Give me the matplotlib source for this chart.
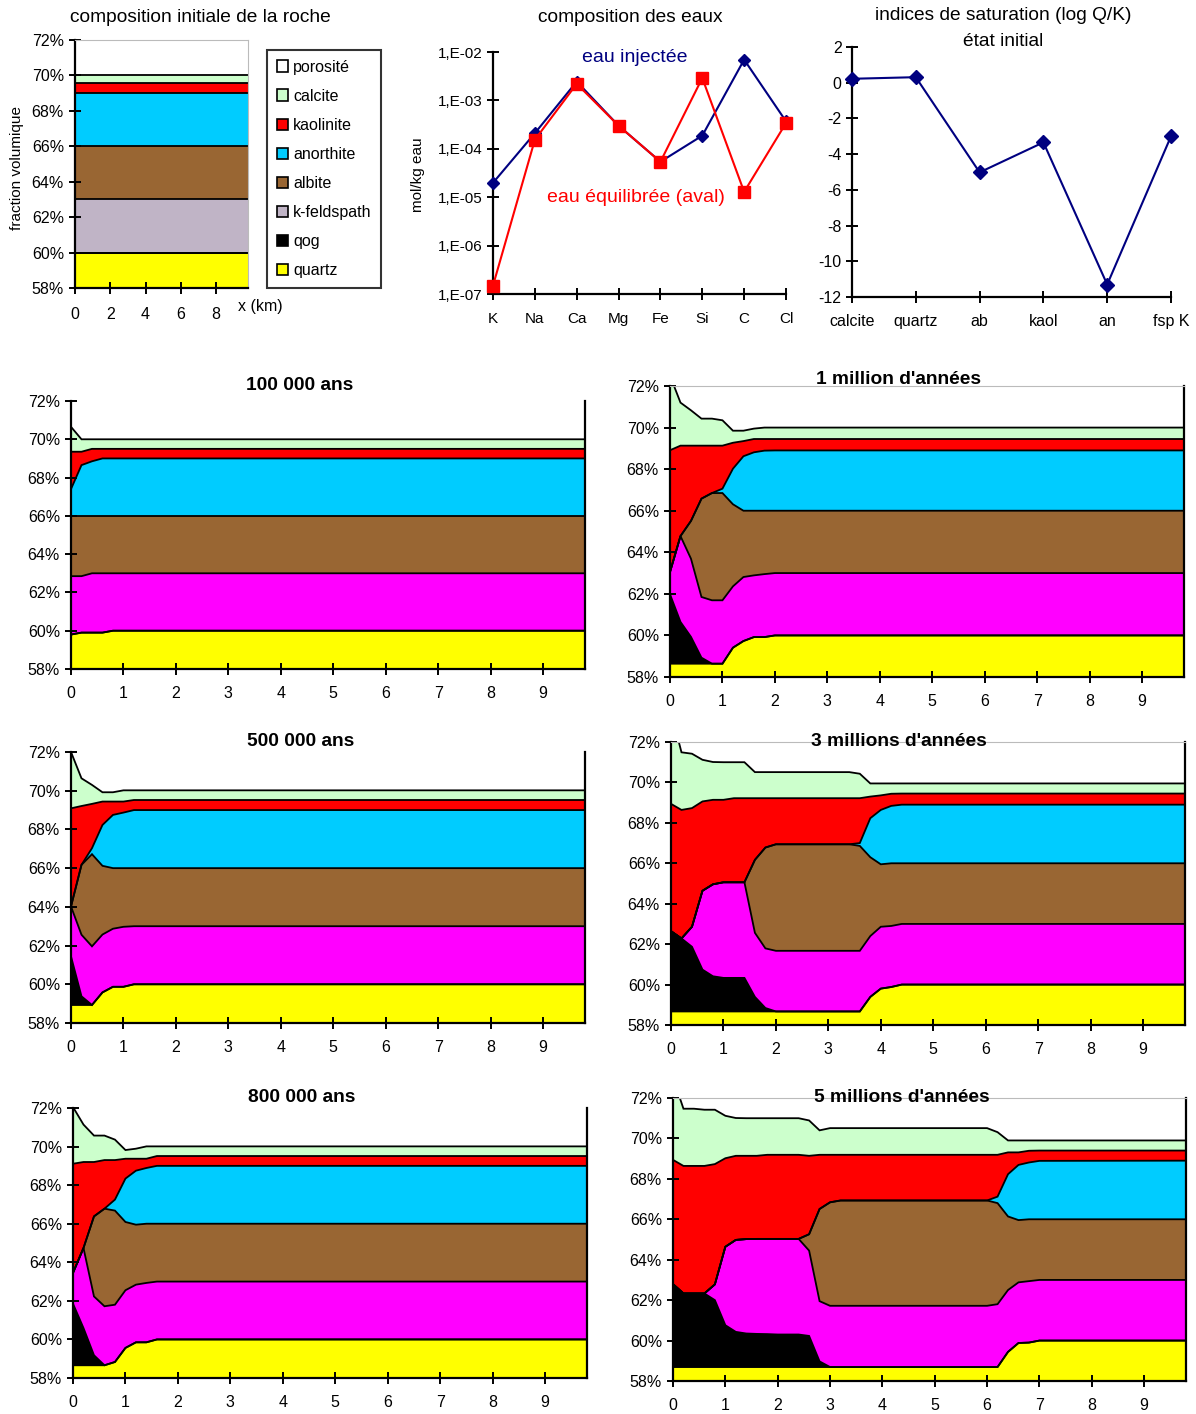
import numpy as np
import matplotlib.pyplot as plt
from matplotlib.patches import Patch

plt.rcParams['font.family'] = ['Liberation Sans', 'DejaVu Sans']
plt.rcParams['axes.unicode_minus'] = False

W, H = 1196, 1414

# ---- layer colours (bottom -> top) ----
layer_names = ['quartz', 'qog', 'k-feldspath', 'albite', 'anorthite', 'kaolinite', 'calcite']
layer_colors = ['#FFFF00', '#000000', '#FF00FF', '#996633', '#00CCFF', '#FF0000', '#CCFFCC']
init_colors = ['#FFFF00', '#000000', '#C0B4C6', '#996633', '#00CCFF', '#FF0000', '#CCFFCC']

# ---- initial rock composition (top of each layer, %) ----
x_init = [0, 9.8]
init_tops = [
    [60.0, 60.0], [60.0, 60.0], [63.0, 63.0], [66.0, 66.0],
    [69.0, 69.0], [69.55, 69.55], [70.0, 70.0],
]

# ---- water compositions ----
elements = ['K', 'Na', 'Ca', 'Mg', 'Fe', 'Si', 'C', 'Cl']
eau_injectee = [1.98e-5, 2.1e-4, 2.45e-3, 3.0e-4, 5.4e-5, 1.87e-4, 6.95e-3, 3.7e-4]
eau_equilibree = [1.49e-7, 1.54e-4, 2.2e-3, 3.0e-4, 5.4e-5, 2.9e-3, 1.29e-5, 3.4e-4]
log_ticks = [1e-7, 1e-6, 1e-5, 1e-4, 1e-3, 1e-2]
log_labels = ['1,E-07', '1,E-06', '1,E-05', '1,E-04', '1,E-03', '1,E-02']

# ---- saturation indices ----
phases = ['calcite', 'quartz', 'ab', 'kaol', 'an', 'fsp K']
sat_index = [0.22, 0.31, -5.02, -3.34, -11.3, -3.0]

# ---- profiles: top of each layer (quartz, qog, kfs, albite, anorthite, kaolinite, calcite) ----
x_100k = [0, 0.2, 0.4, 0.6, 0.8, 9.8]
tops_100k = [
    [59.8, 59.9, 59.9, 59.9, 60.0, 60.0],
    [59.8, 59.9, 59.9, 59.9, 60.0, 60.0],
    [62.85, 62.85, 63.0, 63.0, 63.0, 63.0],
    [66.0, 66.0, 66.0, 66.0, 66.0, 66.0],
    [67.4, 68.65, 68.85, 69.0, 69.0, 69.0],
    [69.35, 69.35, 69.5, 69.5, 69.5, 69.5],
    [70.65, 70.0, 70.0, 70.0, 70.0, 70.0],
]

x_500k = [0, 0.2, 0.4, 0.6, 0.8, 1.0, 1.2, 9.8]
tops_500k = [
    [58.93, 58.93, 58.93, 59.58, 59.87, 59.87, 60.0, 60.0],
    [61.44, 59.38, 58.93, 59.58, 59.87, 59.87, 60.0, 60.0],
    [64.02, 62.56, 61.96, 62.57, 62.87, 62.97, 63.0, 63.0],
    [64.02, 66.17, 66.72, 66.12, 66.0, 66.0, 66.0, 66.0],
    [64.02, 66.17, 67.03, 68.23, 68.75, 68.87, 69.0, 69.0],
    [69.09, 69.21, 69.32, 69.44, 69.44, 69.44, 69.52, 69.52],
    [72.0, 70.64, 70.3, 69.92, 69.92, 70.02, 70.02, 70.02],
]

x_800k = [0, 0.2, 0.4, 0.6, 0.8, 1.0, 1.2, 1.4, 1.6, 9.8]
tops_800k = [
    [58.66, 58.66, 58.66, 58.66, 58.83, 59.56, 59.85, 59.85, 60.0, 60.0],
    [61.85, 60.59, 59.18, 58.66, 58.83, 59.56, 59.85, 59.85, 60.0, 60.0],
    [63.45, 64.74, 62.23, 61.72, 61.8, 62.55, 62.84, 62.93, 63.0, 63.0],
    [63.45, 64.74, 66.38, 66.78, 66.68, 66.09, 65.95, 66.0, 66.0, 66.0],
    [63.45, 64.74, 66.38, 66.78, 67.25, 68.34, 68.75, 68.89, 69.0, 69.0],
    [69.11, 69.2, 69.2, 69.3, 69.3, 69.37, 69.37, 69.37, 69.51, 69.51],
    [72.05, 71.14, 70.57, 70.57, 70.36, 69.82, 69.89, 70.01, 70.01, 70.01],
]

x_1m = [0, 0.2, 0.4, 0.6, 0.8, 1.0, 1.2, 1.4, 1.6, 1.8, 2.0, 9.8]
tops_1m = [
    [58.64, 58.64, 58.64, 58.64, 58.64, 58.64, 59.41, 59.73, 59.92, 59.92, 60.0, 60.0],
    [61.98, 60.65, 59.93, 58.93, 58.64, 58.64, 59.41, 59.73, 59.92, 59.92, 60.0, 60.0],
    [63.05, 64.78, 63.69, 61.85, 61.69, 61.69, 62.36, 62.81, 62.89, 62.95, 63.0, 63.0],
    [63.05, 64.78, 65.51, 66.58, 66.85, 66.85, 66.31, 66.0, 66.0, 66.0, 66.0, 66.0],
    [63.05, 64.78, 65.51, 66.58, 66.85, 67.06, 68.02, 68.62, 68.81, 68.89, 68.9, 68.9],
    [68.91, 69.13, 69.13, 69.13, 69.13, 69.13, 69.27, 69.35, 69.45, 69.45, 69.45, 69.45],
    [72.5, 71.2, 70.83, 70.43, 70.43, 70.35, 69.85, 69.85, 69.95, 70.0, 70.0, 70.0],
]

x_3m = [0, 0.2, 0.4, 0.6, 0.8, 1.0, 1.2, 1.4, 1.6, 1.8, 2.0, 3.4, 3.6, 3.8, 4.0, 4.2, 4.4, 9.8]
tops_3m = [
    [58.67, 58.67, 58.67, 58.67, 58.67, 58.67, 58.67, 58.67, 58.67, 58.67, 58.67, 58.67, 58.67,
     59.39, 59.8, 59.88, 60.0, 60.0],
    [62.64, 62.28, 61.87, 60.74, 60.41, 60.33, 60.33, 60.33, 59.39, 58.84, 58.67, 58.67, 58.67,
     59.39, 59.8, 59.88, 60.0, 60.0],
    [62.64, 62.28, 62.86, 64.64, 64.96, 65.06, 65.06, 65.06, 62.56, 61.79, 61.67, 61.67, 61.67,
     62.4, 62.86, 62.9, 63.0, 63.0],
    [62.64, 62.28, 62.86, 64.64, 64.96, 65.06, 65.06, 65.06, 66.17, 66.78, 66.94, 66.94, 66.86,
     66.3, 65.95, 66.0, 66.0, 66.0],
    [62.64, 62.28, 62.86, 64.64, 64.96, 65.06, 65.06, 65.06, 66.17, 66.78, 66.94, 66.94, 67.0,
     68.23, 68.64, 68.84, 68.9, 68.9],
    [68.94, 68.64, 68.73, 69.06, 69.14, 69.14, 69.22, 69.22, 69.22, 69.22, 69.22, 69.22, 69.22,
     69.3, 69.36, 69.44, 69.45, 69.45],
    [73.5, 71.49, 71.42, 71.12, 71.01, 71.0, 71.0, 71.0, 70.51, 70.51, 70.51, 70.51, 70.43,
     69.95, 69.95, 69.95, 69.95, 69.95],
]

x_5m = [0, 0.2, 0.4, 0.6, 0.8, 1.0, 1.2, 1.4, 1.6, 1.8, 2.0, 2.2, 2.4, 2.6, 2.8, 3.0, 3.2,
        6.0, 6.2, 6.4, 6.6, 6.8, 7.0, 9.8]
tops_5m = [
    [58.69, 58.69, 58.69, 58.69, 58.69, 58.69, 58.69, 58.69, 58.69, 58.69, 58.69, 58.69, 58.69,
     58.69, 58.69, 58.69, 58.69, 58.69, 58.69, 59.44, 59.88, 59.9, 60.0, 60.0],
    [62.79, 62.33, 62.33, 62.33, 62.0, 60.76, 60.43, 60.35, 60.33, 60.32, 60.3, 60.3, 60.3,
     60.23, 58.97, 58.69, 58.69, 58.69, 58.69, 59.44, 59.88, 59.9, 60.0, 60.0],
    [62.79, 62.33, 62.33, 62.33, 62.78, 64.64, 64.98, 65.02, 65.03, 65.03, 65.03, 65.03, 65.03,
     64.45, 61.95, 61.72, 61.72, 61.72, 61.8, 62.5, 62.88, 62.94, 63.0, 63.0],
    [62.79, 62.33, 62.33, 62.33, 62.78, 64.64, 64.98, 65.02, 65.03, 65.03, 65.03, 65.03, 65.03,
     65.26, 66.51, 66.84, 66.93, 66.93, 66.8, 66.14, 65.96, 66.0, 66.0, 66.0],
    [62.79, 62.33, 62.33, 62.33, 62.78, 64.64, 64.98, 65.02, 65.03, 65.03, 65.03, 65.03, 65.03,
     65.26, 66.51, 66.84, 66.93, 66.93, 67.12, 68.23, 68.69, 68.81, 68.89, 68.9],
    [68.94, 68.64, 68.64, 68.64, 68.73, 69.02, 69.14, 69.14, 69.14, 69.19, 69.19, 69.19, 69.19,
     69.14, 69.19, 69.19, 69.19, 69.19, 69.19, 69.31, 69.31, 69.39, 69.4, 69.4],
    [73.0, 71.47, 71.47, 71.42, 71.42, 71.12, 71.01, 71.0, 71.0, 71.0, 71.0, 71.0, 71.0,
     70.89, 70.4, 70.51, 70.51, 70.51, 70.31, 69.9, 69.9, 69.9, 69.9, 69.9],
]

pct_ticks = list(range(58, 73, 2))
pct_labels = [f'{v}%' for v in pct_ticks]
km_ticks = list(range(10))


def px_axes(fig, left, right, top, bottom):
    return fig.add_axes([left / W, 1 - bottom / H, (right - left) / W, (bottom - top) / H])


def draw_layers(ax, x, tops, colors):
    lower = np.full(len(x), 58.0)
    for top, color in zip(tops, colors):
        ax.fill_between(x, lower, top, facecolor=color, edgecolor='none', lw=0)
        lower = np.asarray(top, dtype=float)
    ax.fill_between(x, lower, 80, facecolor='white', edgecolor='none', lw=0)
    for top in tops:
        ax.plot(x, top, color='black', lw=1.3, solid_joinstyle='miter')


def style_profile(ax, xticks, top_line):
    ax.set_xlim(0, 9.8)
    ax.set_ylim(58, 72)
    ax.set_xticks(xticks)
    ax.set_xticklabels([str(v) for v in xticks])
    ax.set_yticks(pct_ticks)
    ax.set_yticklabels(pct_labels)
    ax.tick_params(direction='inout', length=8, width=1.4, labelsize=11.5, colors='black')
    ax.tick_params(axis='x', pad=8)
    ax.tick_params(axis='y', pad=4)
    for side in ['left', 'bottom', 'right']:
        ax.spines[side].set_linewidth(1.6)
        ax.spines[side].set_color('black')
    if top_line:
        ax.spines['top'].set_color('#BBBBBB')
        ax.spines['top'].set_linewidth(0.8)
    else:
        ax.spines['top'].set_visible(False)
    ax.set_zorder(1)


fig = plt.figure(figsize=(W / 100, H / 100), dpi=100)

# ---- initial composition ----
ax0 = px_axes(fig, 75, 248, 40, 288)
draw_layers(ax0, x_init, init_tops, init_colors)
style_profile(ax0, [0, 2, 4, 6, 8], True)
ax0.spines['right'].set_color('#BBBBBB')
ax0.spines['right'].set_linewidth(0.8)
ax0.tick_params(axis='x', pad=10)
fig.text(200 / W, 1 - 17 / H, 'composition initiale de la roche', ha='center', va='center', fontsize=13.8)
fig.text(17 / W, 1 - 168 / H, 'fraction volumique', ha='center', va='center', rotation=90, fontsize=11)
fig.text(260 / W, 1 - 307 / H, 'x (km)', ha='center', va='center', fontsize=11.5)

legend_order = ['porosité', 'calcite', 'kaolinite', 'anorthite', 'albite', 'k-feldspath', 'qog', 'quartz']
legend_colors = ['#FFFFFF', '#CCFFCC', '#FF0000', '#00CCFF', '#996633', '#C0B4C6', '#000000', '#FFFF00']
handles = [Patch(facecolor=c, edgecolor='black', lw=1.2) for c in legend_colors]
leg = fig.legend(handles, legend_order, loc='upper left', bbox_to_anchor=(267 / W, 1 - 50 / H),
                 frameon=True, fancybox=False, edgecolor='black', fontsize=11.5,
                 handlelength=0.7, handleheight=0.7, handletextpad=0.35,
                 labelspacing=0.88, borderpad=0.6, borderaxespad=0)
leg.get_frame().set_linewidth(1.5)

# ---- water composition ----
ax1 = px_axes(fig, 493, 786, 52, 294)
xe = np.arange(len(elements))
ax1.plot(xe, eau_injectee, color='#000080', lw=1.5, marker='D', ms=6, clip_on=False, zorder=3)
ax1.plot(xe, eau_equilibree, color='#FF0000', lw=1.5, marker='s', ms=8, clip_on=False, zorder=4)
ax1.set_yscale('log')
ax1.set_ylim(1e-7, 1e-2)
ax1.set_xlim(0, len(elements) - 1)
ax1.set_yticks(log_ticks)
ax1.set_yticklabels(log_labels)
ax1.minorticks_off()
ax1.set_xticks(xe)
ax1.set_xticklabels(elements)
ax1.tick_params(direction='inout', length=8, width=1.4, labelsize=11)
ax1.tick_params(axis='x', pad=9)
for side in ['top', 'right']:
    ax1.spines[side].set_visible(False)
for side in ['left', 'bottom']:
    ax1.spines[side].set_linewidth(1.6)
fig.text(630 / W, 1 - 17 / H, 'composition des eaux', ha='center', va='center', fontsize=13.8)
fig.text(418 / W, 1 - 175 / H, 'mol/kg eau', ha='center', va='center', rotation=90, fontsize=11)
fig.text(635 / W, 1 - 57 / H, 'eau injectée', ha='center', va='center', fontsize=14, color='#000080')
fig.text(636 / W, 1 - 197 / H, 'eau équilibrée (aval)', ha='center', va='center', fontsize=14,
         color='#FF0000')

# ---- saturation indices ----
ax2 = px_axes(fig, 852, 1171, 47, 297)
xp = np.arange(len(phases))
ax2.plot(xp, sat_index, color='#000080', lw=1.5, marker='D', ms=7, clip_on=False, zorder=3)
ax2.set_xlim(0, len(phases) - 1)
ax2.set_ylim(-12, 2)
ax2.set_yticks(range(-12, 3, 2))
ax2.set_xticks(xp)
ax2.set_xticklabels(phases)
ax2.tick_params(direction='inout', length=8, width=1.4, labelsize=11.5)
ax2.tick_params(axis='x', pad=8)
for side in ['top', 'right']:
    ax2.spines[side].set_visible(False)
for side in ['left', 'bottom']:
    ax2.spines[side].set_linewidth(1.6)
fig.text(1003 / W, 1 - 15 / H, 'indices de saturation (log Q/K)', ha='center', va='center', fontsize=13.8)
fig.text(1003 / W, 1 - 42 / H, 'état initial', ha='center', va='center', fontsize=13.8)

# ---- evolution panels ----
panels = [
    ((71, 585, 401, 669), x_100k, tops_100k, '100 000 ans', (300, 386), False),
    ((670, 1184, 386, 677), x_1m, tops_1m, "1 million d'années", (898, 380), True),
    ((71, 585, 752, 1023), x_500k, tops_500k, '500 000 ans', (301, 742), False),
    ((671, 1185, 742, 1025), x_3m, tops_3m, "3 millions d'années", (899, 742), True),
    ((73, 587, 1108, 1378), x_800k, tops_800k, '800 000 ans', (302, 1098), False),
    ((673, 1186, 1098, 1381), x_5m, tops_5m, "5 millions d'années", (902, 1098), True),
]
for box, x, tops, title, tpos, top_line in panels:
    ax = px_axes(fig, *box)
    draw_layers(ax, x, tops, layer_colors)
    style_profile(ax, km_ticks, top_line)
    fig.text(tpos[0] / W, 1 - tpos[1] / H, title, ha='center', va='center',
             fontsize=13.8, fontweight='bold', zorder=5)

fig.savefig('out.png', dpi=100)
